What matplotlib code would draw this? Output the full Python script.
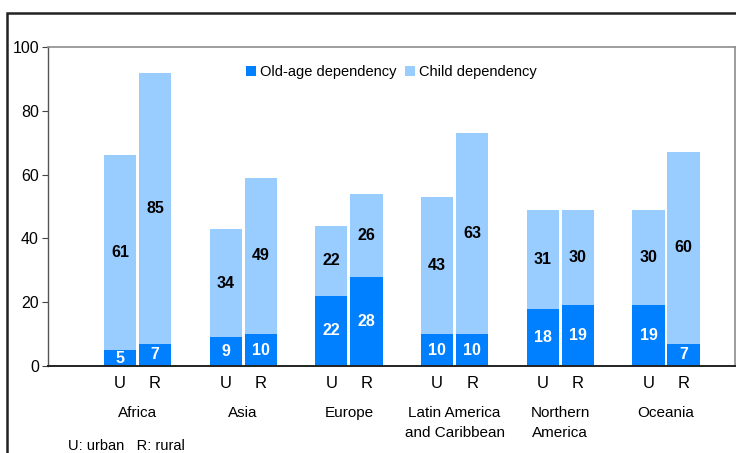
import matplotlib
matplotlib.use("Agg")
import matplotlib.pyplot as plt
from matplotlib.patches import Rectangle
import numpy as np

plt.rcParams['font.family'] = ['Liberation Sans', 'DejaVu Sans']

regions = ["Africa", "Asia", "Europe", "Latin America\nand Caribbean",
           "Northern\nAmerica", "Oceania"]
old_age_urban = [5, 9, 22, 10, 18, 19]
old_age_rural = [7, 10, 28, 10, 19, 7]
child_urban = [61, 34, 22, 43, 31, 30]
child_rural = [85, 49, 26, 63, 30, 60]
y_ticks = [0, 20, 40, 60, 80, 100]

dark_blue = "#0080FF"
light_blue = "#99CCFF"

fig = plt.figure(figsize=(7.36, 4.53), dpi=100)
ax = fig.add_axes([48/736, (453-366)/453, (735-48)/736, 319/453])

x = np.arange(len(regions))
offset = 0.166
width = 0.305

for xs, old, child in [(x - offset, old_age_urban, child_urban),
                       (x + offset, old_age_rural, child_rural)]:
    ax.bar(xs, old, width, color=dark_blue, label="Old-age dependency", zorder=2)
    ax.bar(xs, child, width, bottom=old, color=light_blue,
           label="Child dependency", zorder=2)
    for xi, o, c in zip(xs, old, child):
        ax.text(xi, o / 2, f"{o}", ha="center", va="center", color="white",
                fontsize=11.5, fontweight="bold", zorder=3)
        ax.text(xi, o + c / 2, f"{c}", ha="center", va="center", color="black",
                fontsize=11.5, fontweight="bold", zorder=3)

ax.set_xlim(-0.847, 5.653)
ax.set_ylim(0, 100)
ax.set_yticks(y_ticks)
ax.set_yticklabels([str(t) for t in y_ticks], fontsize=11.5)
ax.tick_params(axis="y", direction="out", length=4, width=0.8, color="#444444", pad=2.5)
ax.set_xticks([])

for side in ["top", "right"]:
    ax.spines[side].set_color("#8c8c8c")
    ax.spines[side].set_linewidth(1.2)
ax.spines["left"].set_color("#555555")
ax.spines["left"].set_linewidth(1.0)
ax.spines["bottom"].set_color("#222222")
ax.spines["bottom"].set_linewidth(1.4)

# U / R labels and region names beneath each group
for xi, name in zip(x, regions):
    ax.text(xi - offset, -5.6, "U", ha="center", va="center", fontsize=12,
            clip_on=False)
    ax.text(xi + offset, -5.6, "R", ha="center", va="center", fontsize=12,
            clip_on=False)
    ax.text(xi, -12.6, name, ha="center", va="top", fontsize=11,
            linespacing=1.5, clip_on=False)

fig.text(68/736, 1 - 446/453, "U: urban   R: rural", ha="left", va="center",
         fontsize=10.5)

handles, labels = ax.get_legend_handles_labels()
leg = ax.legend(handles[:2], labels[:2], loc="upper center",
                bbox_to_anchor=(0.5, 0.985), ncol=2, frameon=False,
                fontsize=10.5, handlelength=0.7, handleheight=0.7,
                handletextpad=0.25, columnspacing=0.6)

# outer frame around the whole chart
fig.patches.append(Rectangle((7/736, -0.1), 1.0, 1 - 13/453 + 0.1,
                             transform=fig.transFigure, fill=False,
                             edgecolor="#222222", linewidth=1.8))

fig.savefig("out.png", dpi=100)
